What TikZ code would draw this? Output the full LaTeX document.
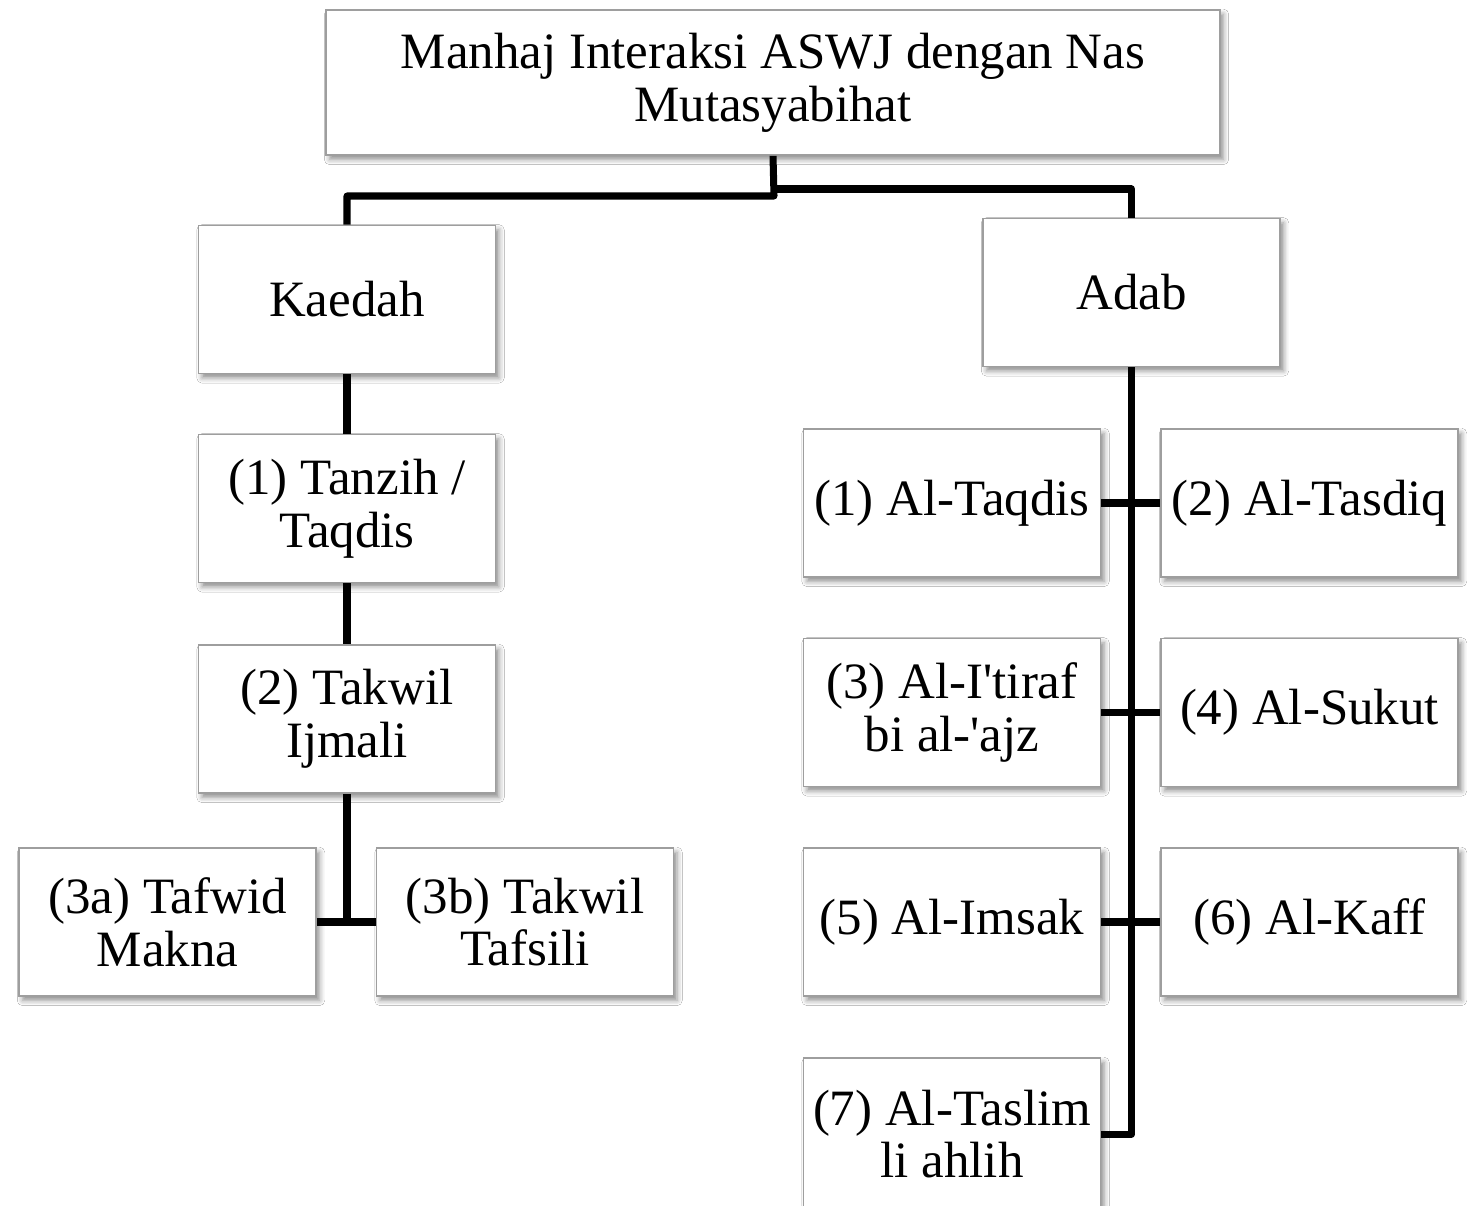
\documentclass[tikz,border=0pt]{standalone}
\usepackage{fontspec}
\setmainfont{Liberation Serif}[Ligatures=TeXOff]
\usetikzlibrary{shadows.blur}
\begin{document}
\begin{tikzpicture}[x={(0.02cm,0)},y={(0,-0.02cm)},
  box/.style={draw=black!38, line width=1pt, fill=white, align=center,
    inner sep=0pt, minimum width=5.94cm, minimum height=2.96cm,
    font=\fontsize{29pt}{30pt}\selectfont,
    blur shadow={shadow xshift=2pt, shadow yshift=-2.5pt, shadow blur radius=3pt, shadow opacity=45}},
  conn/.style={line width=4pt, draw=black}]
\useasboundingbox (0,0) rectangle (1473,1206);
\fill[white] (0,0) rectangle (1473,1206);
% nodes
\node[box, minimum width=17.88cm, minimum height=2.9cm] (top) at (773,82.5) {Manhaj Interaksi ASWJ dengan Nas\\Mutasyabihat};
\node[box] (kaedah) at (347,299.5) {Kaedah};
\node[box] (adab) at (1131.5,292.5) {Adab};
\node[box] (tanzih) at (347,508.5) {(1) Tanzih /\\Taqdis};
\node[box] (ijmali) at (347,719) {(2) Takwil\\Ijmali};
\node[box] (t3a) at (167.5,922) {(3a) Tafwid\\Makna};
\node[box] (t3b) at (525,922) {(3b) Takwil\\Tafsili};
\node[box] (a1) at (952,503) {(1) Al-Taqdis};
\node[box] (a2) at (1309.5,503) {(2) Al-Tasdiq};
\node[box] (a3) at (952,712.5) {(3) Al-I'tiraf\\bi al-'ajz};
\node[box] (a4) at (1309.5,712.5) {(4) Al-Sukut};
\node[box] (a5) at (952,922) {(5) Al-Imsak};
\node[box] (a6) at (1309.5,922) {(6) Al-Kaff};
\node[box, minimum height=3.04cm] (a7) at (952,1134) {(7) Al-Taslim\\li ahlih};
% connectors
\coordinate (jL) at (774,196);
\coordinate (jR) at (774,189);
\draw[conn, line join=round] (top.south) -- (jL) -| (kaedah.north);
\draw[conn, line join=round] (jR) -| (adab.north);
\draw[conn] (kaedah.south) -- (tanzih.north);
\draw[conn] (tanzih.south) -- (ijmali.north);
\draw[conn] (ijmali.south) -- (ijmali.south |- t3a.east);
\draw[conn] (t3a.east) -- (t3b.west);
\draw[conn, line join=round] (adab.south) |- (a7.east);
\draw[conn] (a1.east) -- (a2.west);
\draw[conn] (a3.east) -- (a4.west);
\draw[conn] (a5.east) -- (a6.west);
\end{tikzpicture}
\end{document}
